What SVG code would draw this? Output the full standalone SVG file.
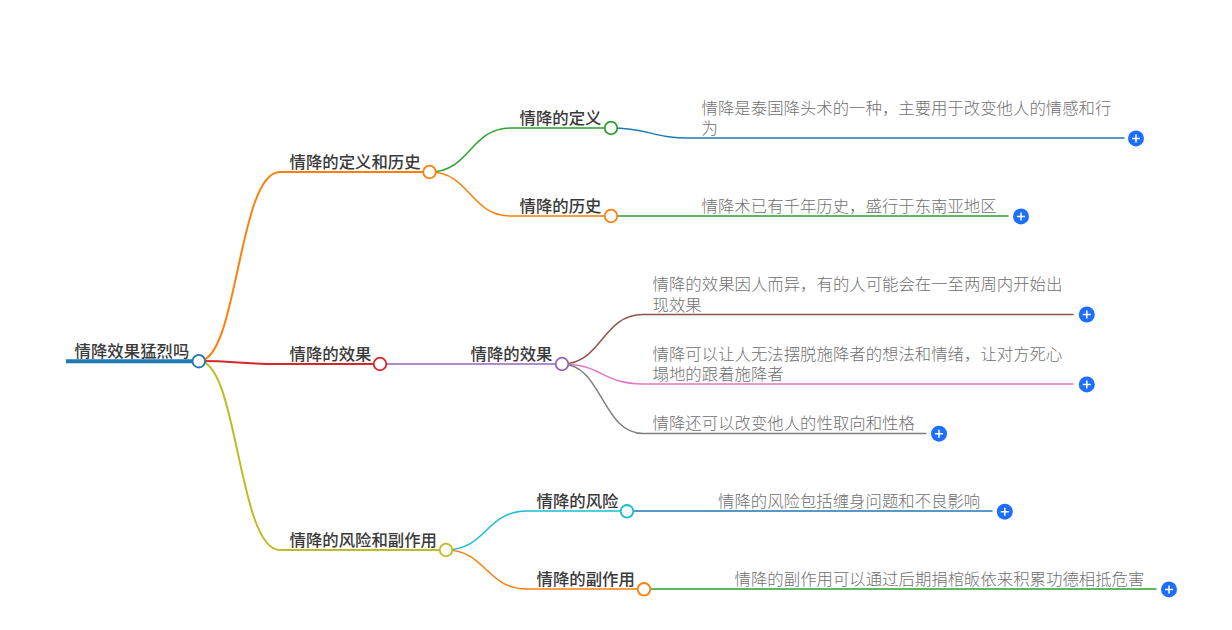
<svg xmlns="http://www.w3.org/2000/svg" width="1232" height="630" viewBox="0 0 1232 630">
<style>
text{font-family:"Noto Sans CJK SC","Liberation Sans",sans-serif;font-size:16.4px}
.t{fill:#3a3a3a;font-weight:500}
.d{fill:#707070;font-weight:300}
.c{fill:none;stroke-linecap:round}
.n{fill:#fff;stroke-width:1.8}
.b{fill:#1e6fff}
.p{stroke:#fff;stroke-width:1.5;fill:none}
</style>
<defs><g id="plus"><circle class="b" r="8"/><path class="p" d="M-4 0H4M0-4V4"/></g></defs>
<rect width="1232" height="630" fill="#fff"/>
<g id="connectors">
<path class="c" stroke="#1f78b4" stroke-width="4" d="M66 361.2H199" style="stroke-linecap:butt"/>
<path class="c" stroke="#ff7f0e" stroke-width="2" d="M199 361C238 361 238 172 280 172H430"/>
<path class="c" stroke="#d62728" stroke-width="2" d="M199 361C238 361 238 364 280 364H380"/>
<path class="c" stroke="#bcbd22" stroke-width="2" d="M199 361C238 361 238 550 280 550H446"/>
<path class="c" stroke="#2ca02c" stroke-width="1.5" d="M430 172C470 172 470 128 511 128H611"/>
<path class="c" stroke="#ff7f0e" stroke-width="1.5" d="M430 172C470 172 470 216 511 216H611"/>
<path class="c" stroke="#1f78b4" stroke-width="1.5" d="M611 128C650 128 650 138 692 138H1124"/>
<path class="c" stroke="#2ca02c" stroke-width="1.5" d="M611 216C650 216 650 216 692 216H1008"/>
<path class="c" stroke="#9467bd" stroke-width="1.5" d="M380 364H562"/>
<path class="c" stroke="#8c564b" stroke-width="1.5" d="M562 364C602 364 602 314.5 643 314.5H1073"/>
<path class="c" stroke="#e377c2" stroke-width="1.5" d="M562 364C602 364 602 384 643 384H1073"/>
<path class="c" stroke="#7f7f7f" stroke-width="1.5" d="M562 364C602 364 602 433.5 643 433.5H926"/>
<path class="c" stroke="#17becf" stroke-width="1.5" d="M446 550C486 550 486 511 527 511H627"/>
<path class="c" stroke="#ff7f0e" stroke-width="1.5" d="M446 550C486 550 486 589 527 589H644"/>
<path class="c" stroke="#1f78b4" stroke-width="1.5" d="M627 511H992"/>
<path class="c" stroke="#2ca02c" stroke-width="1.5" d="M644 589H1156"/>
</g>
<g id="root"><text class="t" x="74.6" y="357">情降效果猛烈吗</text><circle class="n" stroke="#1f78b4" cx="198.8" cy="361.2" r="6.3"/></g>
<g id="n1"><text class="t" x="289.5" y="168">情降的定义和历史</text><circle class="n" stroke="#ff7f0e" cx="429.5" cy="172" r="6.3"/></g>
<g id="n2"><text class="t" x="289.5" y="360">情降的效果</text><circle class="n" stroke="#d62728" cx="380" cy="364" r="6.3"/></g>
<g id="n3"><text class="t" x="289.5" y="546">情降的风险和副作用</text><circle class="n" stroke="#bcbd22" cx="446" cy="550" r="6.3"/></g>
<g id="n11"><text class="t" x="519.5" y="124">情降的定义</text><circle class="n" stroke="#2ca02c" cx="611" cy="128" r="6.3"/></g>
<g id="n12"><text class="t" x="519.5" y="212">情降的历史</text><circle class="n" stroke="#ff7f0e" cx="611" cy="216" r="6.3"/></g>
<g id="n21"><text class="t" x="470.5" y="360">情降的效果</text><circle class="n" stroke="#9467bd" cx="562" cy="364" r="6.3"/></g>
<g id="n31"><text class="t" x="536.5" y="507">情降的风险</text><circle class="n" stroke="#17becf" cx="627" cy="511.3" r="6.3"/></g>
<g id="n32"><text class="t" x="536.5" y="585">情降的副作用</text><circle class="n" stroke="#ff7f0e" cx="644" cy="589.3" r="6.3"/></g>
<g id="d1"><text class="d" x="701.6" y="114">情降是泰国降头术的一种，主要用于改变他人的情感和行<tspan x="701.6" y="134">为</tspan></text><use href="#plus" x="1136" y="138.4"/></g>
<g id="d2"><text class="d" x="701.6" y="212">情降术已有千年历史，盛行于东南亚地区</text><use href="#plus" x="1021" y="216.4"/></g>
<g id="d3"><text class="d" x="652.6" y="290">情降的效果因人而异，有的人可能会在一至两周内开始出<tspan x="652.6" y="311">现效果</tspan></text><use href="#plus" x="1086.8" y="314.5"/></g>
<g id="d4"><text class="d" x="652.6" y="360">情降可以让人无法摆脱施降者的想法和情绪，让对方死心<tspan x="652.6" y="380">塌地的跟着施降者</tspan></text><use href="#plus" x="1086.8" y="384.4"/></g>
<g id="d5"><text class="d" x="652.6" y="429">情降还可以改变他人的性取向和性格</text><use href="#plus" x="939" y="433.7"/></g>
<g id="d6"><text class="d" x="718" y="507">情降的风险包括缠身问题和不良影响</text><use href="#plus" x="1004.8" y="511.7"/></g>
<g id="d7"><text class="d" x="734.6" y="585">情降的副作用可以通过后期捐棺皈依来积累功德相抵危害</text><use href="#plus" x="1169" y="589.4"/></g>
</svg>
